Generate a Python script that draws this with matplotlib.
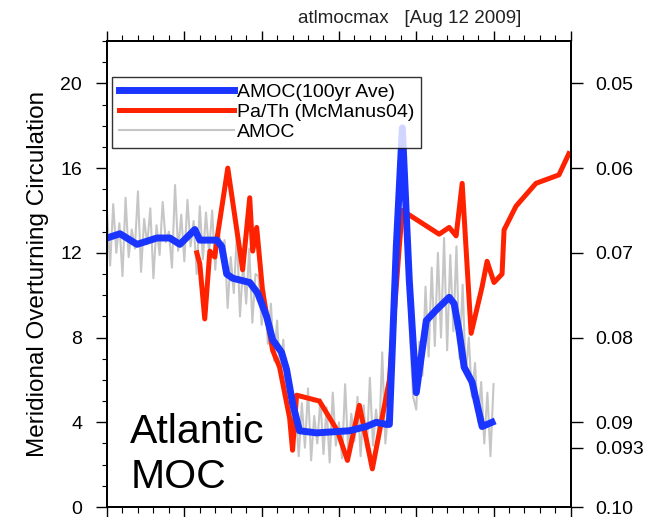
import numpy as np
import matplotlib
matplotlib.use('Agg')
import matplotlib.pyplot as plt
from matplotlib.ticker import MultipleLocator

plt.rcParams['font.family'] = ['Liberation Sans', 'DejaVu Sans']

# AMOC 100yr average (Sv), x in kyr of model run
amoc_avg_x = [0, 0.84, 1.94, 3.23, 4.06, 4.71, 5.68, 6.0, 7.1, 7.42, 7.74, 8.13,
              9.23, 9.74, 10.32, 10.71, 11.29, 11.61, 12.0, 12.45, 13.55, 15.68,
              16.77, 17.42, 18.06, 18.26, 18.71, 19.1, 19.55, 20.0, 20.65, 21.29,
              22.13, 22.45, 22.77, 23.1, 23.61, 24.26, 24.9]
amoc_avg = [12.7, 12.9, 12.4, 12.7, 12.7, 12.4, 13.1, 12.6, 12.6, 12.3, 11.0, 10.8,
            10.6, 10.1, 9.0, 7.9, 7.3, 6.5, 4.9, 3.6, 3.5, 3.6,
            3.8, 4.0, 3.9, 3.9, 12.3, 17.9, 10.7, 5.4, 8.8, 9.3,
            9.9, 9.6, 8.3, 6.6, 5.9, 3.8, 4.0]

# Pa/Th (McManus04), right axis
path_x = [5.81, 6.0, 6.32, 6.65, 6.97, 7.1, 7.81, 8.77, 9.23, 9.42, 9.68, 10.06,
          10.71, 11.16, 11.81, 12.0, 12.26, 13.74, 14.9, 15.55, 16.32, 17.16,
          18.26, 18.9, 19.1, 21.48, 22.13, 22.58, 22.97, 23.55, 24.26, 24.58,
          25.03, 25.55, 25.68, 26.45, 27.74, 29.23, 29.87]
path = [0.0700, 0.0713, 0.0778, 0.0698, 0.0705, 0.0685, 0.0600, 0.0720, 0.0635,
        0.0698, 0.0670, 0.0745, 0.0815, 0.0835, 0.0895, 0.0933, 0.0868, 0.0875,
        0.0910, 0.0945, 0.0880, 0.0955, 0.0850, 0.0693, 0.0650, 0.0678, 0.0670,
        0.0680, 0.0618, 0.0795, 0.0740, 0.0710, 0.0735, 0.0725, 0.0673, 0.0645,
        0.0618, 0.0608, 0.0583]

# annual AMOC, read every 0.2 kyr
amoc_raw = [13.9, 11.4, 14.3, 12.0, 13.4, 10.9, 14.6, 11.8, 13.1, 12.2, 14.9, 11.1,
            13.6, 12.4, 14.1, 10.8, 13.3, 11.9, 14.4, 12.5, 13.0, 11.3, 15.2, 12.1,
            13.8, 11.6, 14.5, 12.3, 13.5, 11.0, 14.2,
            11.7, 13.9, 12.0, 14.0, 11.2, 13.3, 11.9,
            12.6, 9.4, 11.8, 10.1, 12.9, 9.0, 11.5, 9.6, 12.2, 8.7, 11.0,
            10.9, 8.6, 10.2, 7.7, 9.6, 6.9, 8.8, 6.2, 7.9, 5.1, 6.0, 3.4,
            4.5, 2.4, 4.9, 2.8, 5.6, 2.2, 4.3, 3.0, 5.1, 2.5, 4.7, 2.1, 5.4, 2.9,
            4.0, 2.3, 5.8, 2.6, 4.4, 3.1, 5.2, 2.4, 4.8, 2.7, 6.1, 2.9, 4.6, 3.2,
            7.3, 3.0,
            4.5, 7.5, 11.5, 14.8, 17.0, 15.5, 12.0, 8.0, 5.2, 4.6,
            7.8, 6.2, 10.4, 7.1, 11.3, 7.6, 12.0, 8.0, 12.7, 7.4, 11.9, 8.3, 12.3,
            7.0, 10.5,
            6.3, 8.0, 5.2, 6.8, 4.0, 5.9, 3.0, 5.4, 2.4, 5.8]
amoc_raw_x = np.arange(len(amoc_raw)) * 0.2

left_ticks = [0, 4, 8, 12, 16, 20]
right_ticks = [0.05, 0.06, 0.07, 0.08, 0.09, 0.093, 0.10]
right_labels = ['0.05', '0.06', '0.07', '0.08', '0.09', '0.093', '0.10']

fig = plt.figure(figsize=(6.51, 5.17), dpi=100)
ax = fig.add_axes([0.1644, 0.0193, 0.7125, 0.9014])
ax2 = ax.twinx()

ax.set_xlim(0, 30)
ax.set_ylim(0, 22)
ax2.set_ylim(0.10, 0.045)

l_raw, = ax.plot(amoc_raw_x, amoc_raw, color='#c6c6c6', lw=1.5, zorder=2,
                 label='AMOC')
# red drawn with right-axis scale but kept in main axes for stacking order
l_red, = ax.plot(path_x, path, color='#ff2200', lw=3.6, zorder=3,
                 transform=ax2.transData, label='Pa/Th (McManus04)')
l_blue, = ax.plot(amoc_avg_x, amoc_avg, color='#1a35ff', lw=5, zorder=4,
                  solid_joinstyle='round', label='AMOC(100yr Ave)')

ax.set_yticks(left_ticks)
ax.yaxis.set_minor_locator(MultipleLocator(1))
ax.xaxis.set_major_locator(MultipleLocator(5))
ax.xaxis.set_minor_locator(MultipleLocator(1))
ax.tick_params(axis='y', which='both', direction='out', labelsize=14, pad=10,
               left=True, right=False)
ax.tick_params(axis='y', which='major', length=8, width=1.0)
ax.tick_params(axis='y', which='minor', length=3.5, width=0.8)
ax.tick_params(axis='x', which='both', direction='out', top=True, bottom=True,
               labelbottom=False, labeltop=False)
ax.tick_params(axis='x', which='major', length=7.5, width=1.0)
ax.tick_params(axis='x', which='minor', length=4, width=0.8)

ax2.set_yticks(right_ticks)
ax2.set_yticklabels(right_labels)
ax2.tick_params(axis='y', direction='out', length=8.5, width=1.0,
                labelsize=14, pad=9)
ax2.yaxis.set_minor_locator(plt.NullLocator())

for a in (ax, ax2):
    for s in a.spines.values():
        s.set_linewidth(1.3)

ax.set_ylabel('Meridional Overturning Circulation', fontsize=17.5, labelpad=8)

fig.text(0.63, 0.965, 'atlmocmax   [Aug 12 2009]', fontsize=13.5,
         ha='center', va='center', color='#222222')

ax.text(0.05, 0.113, 'Atlantic\nMOC', transform=ax.transAxes, fontsize=29.5,
        ha='left', va='center', linespacing=1.25, zorder=5)

leg = ax.legend(handles=[l_blue, l_red, l_raw], loc='upper left',
                bbox_to_anchor=(0.011, 0.923), frameon=True, fancybox=False,
                fontsize=14, handlelength=5.9, handletextpad=0.15,
                labelspacing=0.12, borderpad=0.35, borderaxespad=0)
leg.get_frame().set_edgecolor('black')
leg.get_frame().set_linewidth(1.0)
leg.set_zorder(6)

fig.savefig('out.png', dpi=100)
